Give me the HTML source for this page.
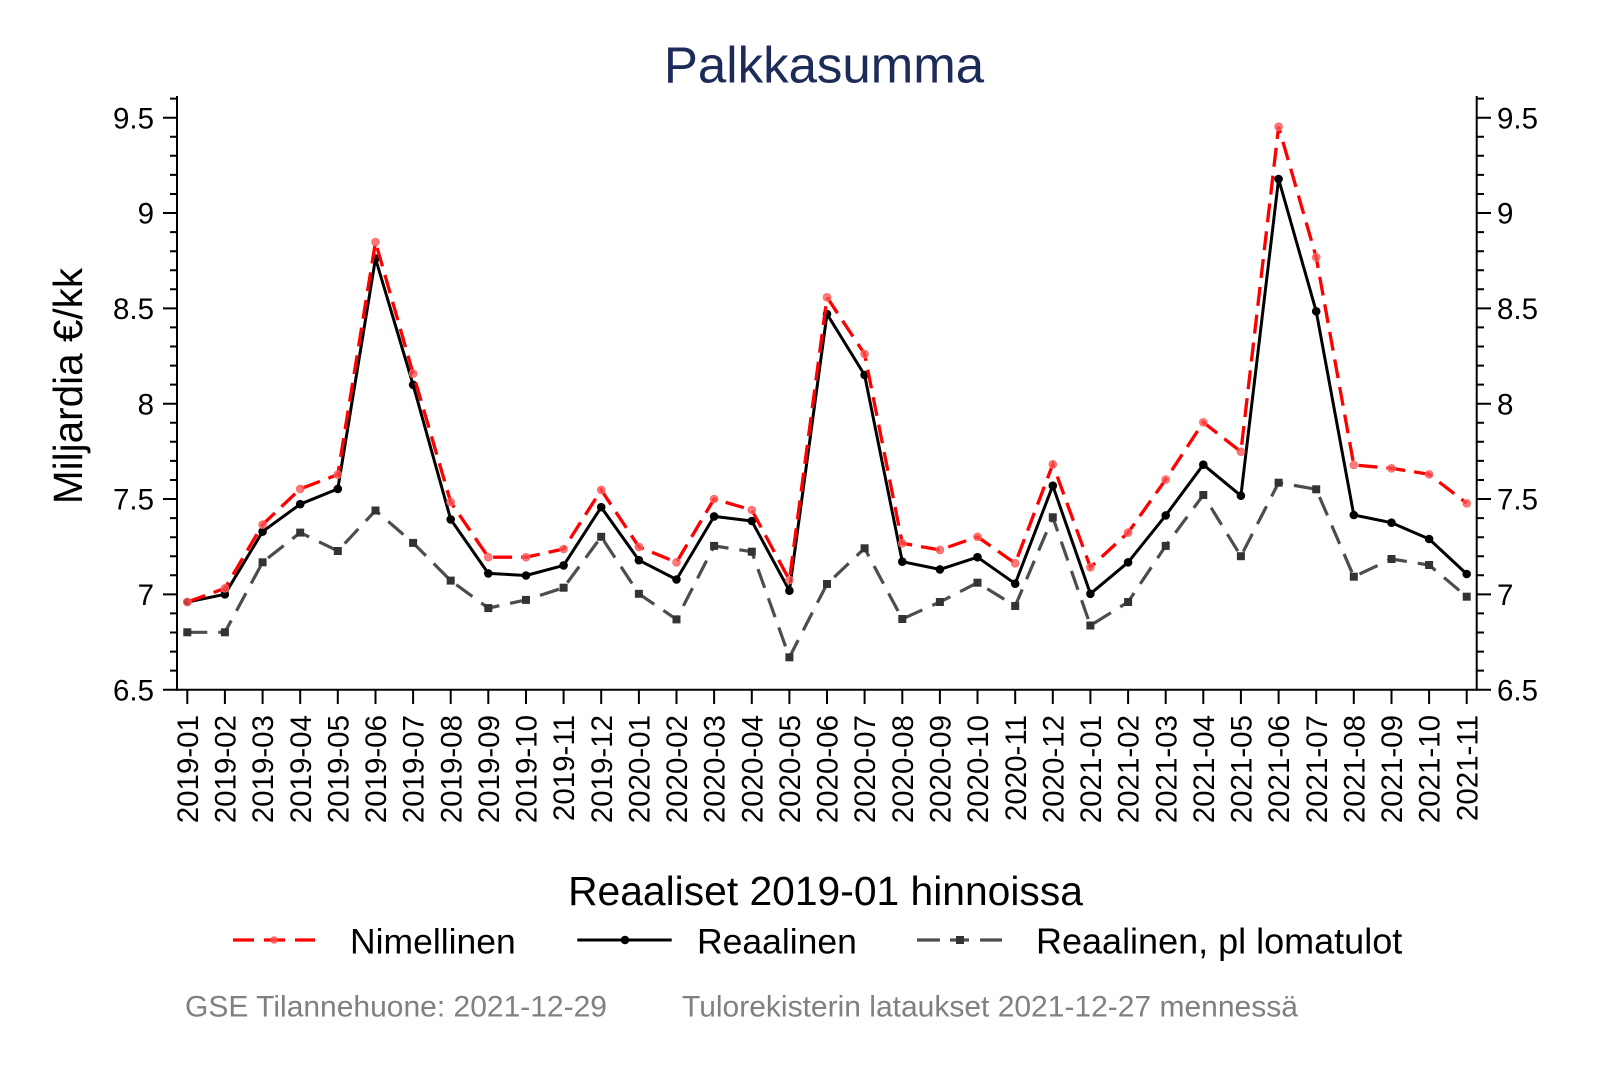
<!DOCTYPE html>
<html>
<head>
<meta charset="utf-8">
<style>
  html, body { margin: 0; padding: 0; background: #ffffff; }
  svg { display: block; }
  text { font-family: "Liberation Sans", Arial, sans-serif; }
</style>
</head>
<body>
<svg width="1600" height="1067" viewBox="0 0 1600 1067" xmlns="http://www.w3.org/2000/svg">
  <defs>
    <marker id="mr" markerWidth="12" markerHeight="12" refX="6" refY="6" markerUnits="userSpaceOnUse" overflow="visible">
      <circle cx="6" cy="6" r="3.8" fill="#ff4d4d" fill-opacity="0.75" stroke="#ff6a6a" stroke-width="1"/>
    </marker>
    <marker id="mb" markerWidth="12" markerHeight="12" refX="6" refY="6" markerUnits="userSpaceOnUse" overflow="visible">
      <circle cx="6" cy="6" r="4.3" fill="#000"/>
    </marker>
    <marker id="mg" markerWidth="12" markerHeight="12" refX="6" refY="6" markerUnits="userSpaceOnUse" overflow="visible">
      <rect x="2" y="2" width="8" height="8" fill="#333"/>
    </marker>
  </defs>

  <rect x="0" y="0" width="1600" height="1067" fill="#fff"/>

  <!-- Title -->
  <text x="824" y="82.7" font-size="51" fill="#1c2b58" text-anchor="middle">Palkkasumma</text>

  <!-- Axes -->
  <g stroke="#000" stroke-width="2" fill="none">
    <path d="M177 96 V690.7"/>
    <path d="M176 689.7 H1477.7"/>
    <path d="M1476.7 96 V690.7"/>
    <path d="M163 117.7 H177 M163 213 H177 M163 308.4 H177 M163 403.7 H177 M163 499 H177 M163 594.4 H177 M163 689.7 H177"/>
    <path d="M1476.7 117.7 H1491 M1476.7 213 H1491 M1476.7 308.4 H1491 M1476.7 403.7 H1491 M1476.7 499 H1491 M1476.7 594.4 H1491 M1476.7 689.7 H1491"/>
    <path d="M170 670.6 H177 M170 651.6 H177 M170 632.5 H177 M170 613.4 H177
             M170 575.3 H177 M170 556.2 H177 M170 537.2 H177 M170 518.1 H177
             M170 480 H177 M170 460.9 H177 M170 441.8 H177 M170 422.8 H177
             M170 384.6 H177 M170 365.6 H177 M170 346.5 H177 M170 327.4 H177
             M170 289.3 H177 M170 270.2 H177 M170 251.2 H177 M170 232.1 H177
             M170 194 H177 M170 174.9 H177 M170 155.8 H177 M170 136.8 H177
             M170 98.6 H177"/>
    <path d="M1476.7 670.6 H1484 M1476.7 651.6 H1484 M1476.7 632.5 H1484 M1476.7 613.4 H1484
             M1476.7 575.3 H1484 M1476.7 556.2 H1484 M1476.7 537.2 H1484 M1476.7 518.1 H1484
             M1476.7 480 H1484 M1476.7 460.9 H1484 M1476.7 441.8 H1484 M1476.7 422.8 H1484
             M1476.7 384.6 H1484 M1476.7 365.6 H1484 M1476.7 346.5 H1484 M1476.7 327.4 H1484
             M1476.7 289.3 H1484 M1476.7 270.2 H1484 M1476.7 251.2 H1484 M1476.7 232.1 H1484
             M1476.7 194 H1484 M1476.7 174.9 H1484 M1476.7 155.8 H1484 M1476.7 136.8 H1484
             M1476.7 98.6 H1484"/>
    <path d="M187.3 689.7 V704 M224.9 689.7 V704 M262.6 689.7 V704 M300.2 689.7 V704 M337.8 689.7 V704
             M375.5 689.7 V704 M413.1 689.7 V704 M450.7 689.7 V704 M488.3 689.7 V704 M526 689.7 V704
             M563.6 689.7 V704 M601.2 689.7 V704 M638.9 689.7 V704 M676.5 689.7 V704 M714.1 689.7 V704
             M751.8 689.7 V704 M789.4 689.7 V704 M827 689.7 V704 M864.6 689.7 V704 M902.3 689.7 V704
             M939.9 689.7 V704 M977.5 689.7 V704 M1015.2 689.7 V704 M1052.8 689.7 V704 M1090.4 689.7 V704
             M1128.1 689.7 V704 M1165.7 689.7 V704 M1203.3 689.7 V704 M1240.9 689.7 V704 M1278.6 689.7 V704
             M1316.2 689.7 V704 M1353.8 689.7 V704 M1391.5 689.7 V704 M1429.1 689.7 V704 M1466.7 689.7 V704"/>
  </g>

  <!-- Y tick labels left -->
  <g font-size="29.5" fill="#000" text-anchor="end">
    <text x="154" y="117.7" dy="0.36em">9.5</text>
    <text x="154" y="213" dy="0.36em">9</text>
    <text x="154" y="308.4" dy="0.36em">8.5</text>
    <text x="154" y="403.7" dy="0.36em">8</text>
    <text x="154" y="499" dy="0.36em">7.5</text>
    <text x="154" y="594.4" dy="0.36em">7</text>
    <text x="154" y="689.7" dy="0.36em">6.5</text>
  </g>
  <!-- Y tick labels right -->
  <g font-size="29.5" fill="#000" text-anchor="start">
    <text x="1497" y="117.7" dy="0.36em">9.5</text>
    <text x="1497" y="213" dy="0.36em">9</text>
    <text x="1497" y="308.4" dy="0.36em">8.5</text>
    <text x="1497" y="403.7" dy="0.36em">8</text>
    <text x="1497" y="499" dy="0.36em">7.5</text>
    <text x="1497" y="594.4" dy="0.36em">7</text>
    <text x="1497" y="689.7" dy="0.36em">6.5</text>
  </g>

  <!-- Y axis title -->
  <text transform="translate(67.5,386) rotate(-90)" font-size="40.5" text-anchor="middle" dy="0.36em" fill="#000">Miljardia €/kk</text>

  <!-- X tick labels -->
  <g font-size="29.5" fill="#000" text-anchor="end">
    <text transform="translate(187.3,715) rotate(-90)" dy="0.36em">2019-01</text>
    <text transform="translate(224.9,715) rotate(-90)" dy="0.36em">2019-02</text>
    <text transform="translate(262.6,715) rotate(-90)" dy="0.36em">2019-03</text>
    <text transform="translate(300.2,715) rotate(-90)" dy="0.36em">2019-04</text>
    <text transform="translate(337.8,715) rotate(-90)" dy="0.36em">2019-05</text>
    <text transform="translate(375.5,715) rotate(-90)" dy="0.36em">2019-06</text>
    <text transform="translate(413.1,715) rotate(-90)" dy="0.36em">2019-07</text>
    <text transform="translate(450.7,715) rotate(-90)" dy="0.36em">2019-08</text>
    <text transform="translate(488.3,715) rotate(-90)" dy="0.36em">2019-09</text>
    <text transform="translate(526,715) rotate(-90)" dy="0.36em">2019-10</text>
    <text transform="translate(563.6,715) rotate(-90)" dy="0.36em">2019-11</text>
    <text transform="translate(601.2,715) rotate(-90)" dy="0.36em">2019-12</text>
    <text transform="translate(638.9,715) rotate(-90)" dy="0.36em">2020-01</text>
    <text transform="translate(676.5,715) rotate(-90)" dy="0.36em">2020-02</text>
    <text transform="translate(714.1,715) rotate(-90)" dy="0.36em">2020-03</text>
    <text transform="translate(751.8,715) rotate(-90)" dy="0.36em">2020-04</text>
    <text transform="translate(789.4,715) rotate(-90)" dy="0.36em">2020-05</text>
    <text transform="translate(827,715) rotate(-90)" dy="0.36em">2020-06</text>
    <text transform="translate(864.6,715) rotate(-90)" dy="0.36em">2020-07</text>
    <text transform="translate(902.3,715) rotate(-90)" dy="0.36em">2020-08</text>
    <text transform="translate(939.9,715) rotate(-90)" dy="0.36em">2020-09</text>
    <text transform="translate(977.5,715) rotate(-90)" dy="0.36em">2020-10</text>
    <text transform="translate(1015.2,715) rotate(-90)" dy="0.36em">2020-11</text>
    <text transform="translate(1052.8,715) rotate(-90)" dy="0.36em">2020-12</text>
    <text transform="translate(1090.4,715) rotate(-90)" dy="0.36em">2021-01</text>
    <text transform="translate(1128.1,715) rotate(-90)" dy="0.36em">2021-02</text>
    <text transform="translate(1165.7,715) rotate(-90)" dy="0.36em">2021-03</text>
    <text transform="translate(1203.3,715) rotate(-90)" dy="0.36em">2021-04</text>
    <text transform="translate(1240.9,715) rotate(-90)" dy="0.36em">2021-05</text>
    <text transform="translate(1278.6,715) rotate(-90)" dy="0.36em">2021-06</text>
    <text transform="translate(1316.2,715) rotate(-90)" dy="0.36em">2021-07</text>
    <text transform="translate(1353.8,715) rotate(-90)" dy="0.36em">2021-08</text>
    <text transform="translate(1391.5,715) rotate(-90)" dy="0.36em">2021-09</text>
    <text transform="translate(1429.1,715) rotate(-90)" dy="0.36em">2021-10</text>
    <text transform="translate(1466.7,715) rotate(-90)" dy="0.36em">2021-11</text>
  </g>

  <!-- Series: gray (Reaalinen, pl lomatulot) -->
  <polyline fill="none" stroke="#4d4d4d" stroke-width="3.2" stroke-dasharray="20 11"
    points="187.3,632.3 224.9,632.3 262.6,562.3 300.2,532.6 337.8,551.0 375.5,510.5 413.1,542.9 450.7,580.6 488.3,608.1 526.0,599.9 563.6,587.7 601.2,536.8 638.9,593.8 676.5,619.4 714.1,545.9 751.8,551.7 789.4,657.3 827.0,584.0 864.6,548.3 902.3,619.0 939.9,602.0 977.5,582.7 1015.2,606.0 1052.8,517.3 1090.4,625.5 1128.1,602.0 1165.7,545.9 1203.3,495.0 1240.9,556.2 1278.6,482.7 1316.2,489.3 1353.8,576.7 1391.5,559.0 1429.1,565.0 1466.7,596.7"/>
  <polyline fill="none" stroke="none" marker-start="url(#mg)" marker-mid="url(#mg)" marker-end="url(#mg)"
    points="187.3,632.3 224.9,632.3 262.6,562.3 300.2,532.6 337.8,551.0 375.5,510.5 413.1,542.9 450.7,580.6 488.3,608.1 526.0,599.9 563.6,587.7 601.2,536.8 638.9,593.8 676.5,619.4 714.1,545.9 751.8,551.7 789.4,657.3 827.0,584.0 864.6,548.3 902.3,619.0 939.9,602.0 977.5,582.7 1015.2,606.0 1052.8,517.3 1090.4,625.5 1128.1,602.0 1165.7,545.9 1203.3,495.0 1240.9,556.2 1278.6,482.7 1316.2,489.3 1353.8,576.7 1391.5,559.0 1429.1,565.0 1466.7,596.7"/>

  <!-- Series: black (Reaalinen) -->
  <polyline fill="none" stroke="#000" stroke-width="3" stroke-linejoin="round"
    points="187.3,602.0 224.9,594.3 262.6,531.6 300.2,504.2 337.8,488.9 375.5,258.5 413.1,384.8 450.7,519.4 488.3,573.4 526.0,575.5 563.6,565.4 601.2,507.2 638.9,560.2 676.5,579.5 714.1,516.4 751.8,521.0 789.4,590.7 827.0,314.0 864.6,375.0 902.3,561.7 939.9,569.4 977.5,557.2 1015.2,583.7 1052.8,485.7 1090.4,593.8 1128.1,562.3 1165.7,515.4 1203.3,464.7 1240.9,495.7 1278.6,179.0 1316.2,311.3 1353.8,515.0 1391.5,522.7 1429.1,539.0 1466.7,574.0"/>
  <polyline fill="none" stroke="none" marker-start="url(#mb)" marker-mid="url(#mb)" marker-end="url(#mb)"
    points="187.3,602.0 224.9,594.3 262.6,531.6 300.2,504.2 337.8,488.9 375.5,258.5 413.1,384.8 450.7,519.4 488.3,573.4 526.0,575.5 563.6,565.4 601.2,507.2 638.9,560.2 676.5,579.5 714.1,516.4 751.8,521.0 789.4,590.7 827.0,314.0 864.6,375.0 902.3,561.7 939.9,569.4 977.5,557.2 1015.2,583.7 1052.8,485.7 1090.4,593.8 1128.1,562.3 1165.7,515.4 1203.3,464.7 1240.9,495.7 1278.6,179.0 1316.2,311.3 1353.8,515.0 1391.5,522.7 1429.1,539.0 1466.7,574.0"/>

  <!-- Series: red (Nimellinen) -->
  <polyline fill="none" stroke="#ff0000" stroke-width="3.3" stroke-dasharray="19 9"
    points="187.3,602.0 224.9,588.3 262.6,524.6 300.2,488.9 337.8,474.6 375.5,242.0 413.1,373.6 450.7,502.1 488.3,557.2 526.0,557.2 563.6,549.0 601.2,489.9 638.9,546.9 676.5,562.3 714.1,499.0 751.8,510.0 789.4,580.0 827.0,297.3 864.6,354.0 902.3,543.3 939.9,549.9 977.5,536.8 1015.2,563.3 1052.8,464.3 1090.4,567.3 1128.1,532.6 1165.7,479.6 1203.3,422.3 1240.9,451.7 1278.6,126.7 1316.2,257.3 1353.8,465.0 1391.5,468.3 1429.1,474.3 1466.7,503.3"/>
  <polyline fill="none" stroke="none" marker-start="url(#mr)" marker-mid="url(#mr)" marker-end="url(#mr)"
    points="187.3,602.0 224.9,588.3 262.6,524.6 300.2,488.9 337.8,474.6 375.5,242.0 413.1,373.6 450.7,502.1 488.3,557.2 526.0,557.2 563.6,549.0 601.2,489.9 638.9,546.9 676.5,562.3 714.1,499.0 751.8,510.0 789.4,580.0 827.0,297.3 864.6,354.0 902.3,543.3 939.9,549.9 977.5,536.8 1015.2,563.3 1052.8,464.3 1090.4,567.3 1128.1,532.6 1165.7,479.6 1203.3,422.3 1240.9,451.7 1278.6,126.7 1316.2,257.3 1353.8,465.0 1391.5,468.3 1429.1,474.3 1466.7,503.3"/>

  <!-- Legend -->
  <text x="825.5" y="905" font-size="40.8" text-anchor="middle" fill="#000">Reaaliset 2019-01 hinnoissa</text>

  <g stroke="#ff0000" stroke-width="3.3">
    <path d="M233 940 H254 M264 940 H285 M295 940 H315"/>
  </g>
  <circle cx="274" cy="940" r="3.8" fill="#ff4d4d" fill-opacity="0.8"/>
  <text x="350" y="953.5" font-size="35.5" fill="#000">Nimellinen</text>

  <path d="M577.3 940 H671.7" stroke="#000" stroke-width="3"/>
  <circle cx="625" cy="940" r="4.3" fill="#000"/>
  <text x="697" y="953.5" font-size="35.5" fill="#000">Reaalinen</text>

  <g stroke="#4d4d4d" stroke-width="3.2">
    <path d="M917 940 H940 M950 940 H969 M980 940 H1002"/>
  </g>
  <rect x="956" y="936" width="8" height="8" fill="#333"/>
  <text x="1036" y="953.5" font-size="36" fill="#000">Reaalinen, pl lomatulot</text>

  <!-- Footnote -->
  <text x="185" y="1016.7" font-size="30" fill="#808080">GSE Tilannehuone: 2021-12-29</text>
  <text x="682" y="1016.7" font-size="30" fill="#808080">Tulorekisterin lataukset 2021-12-27 mennessä</text>
</svg>
</body>
</html>
